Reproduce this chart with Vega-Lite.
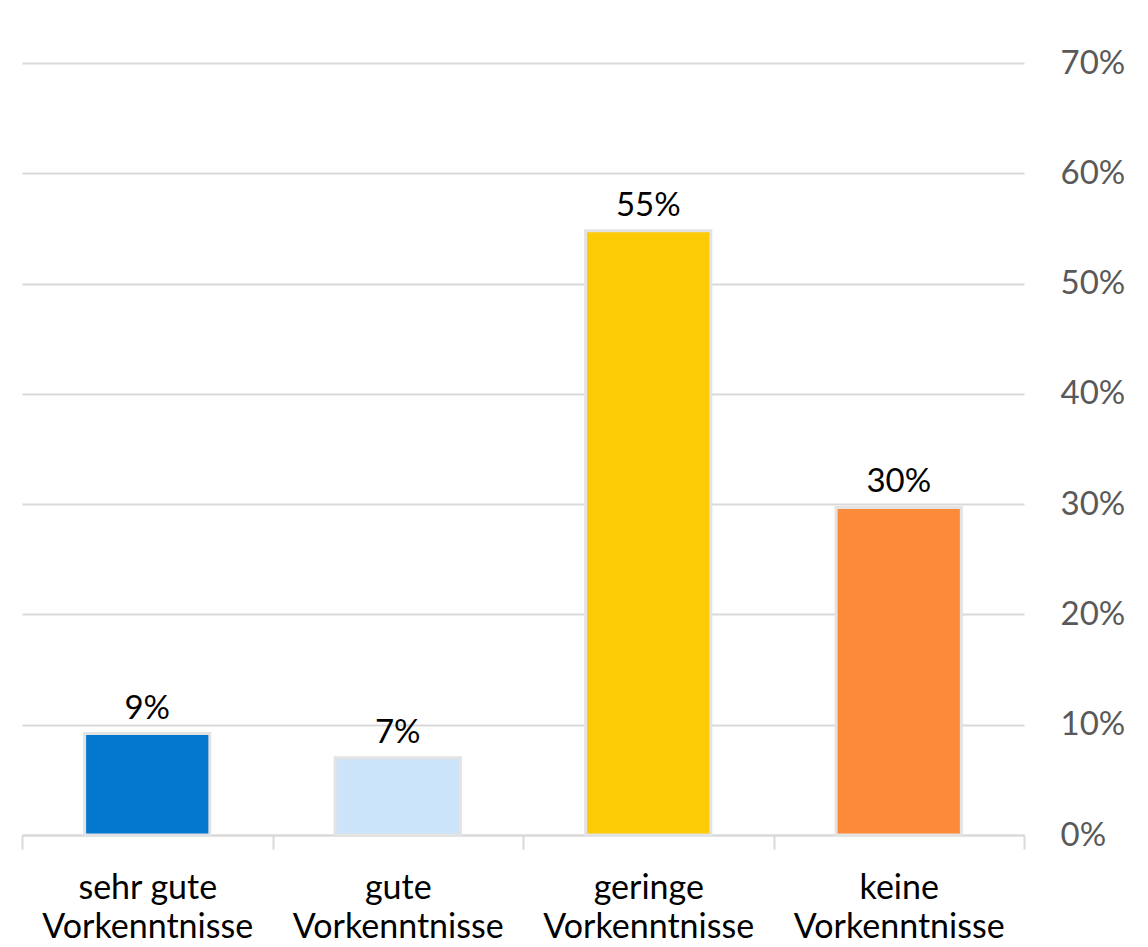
{
  "$schema": "https://vega.github.io/schema/vega-lite/v6.json",
  "width": 1002,
  "height": 772,
  "autosize": {"type": "none"},
  "padding": {"left": 22, "top": 63, "right": 124, "bottom": 112},
  "background": "white",
  "config": {"view": {"stroke": null}, "font": "Lato"},
  "data": {
    "values": [
      {"kategorie": "sehr gute\nVorkenntnisse", "anteil": 0.092},
      {"kategorie": "gute\nVorkenntnisse", "anteil": 0.07},
      {"kategorie": "geringe\nVorkenntnisse", "anteil": 0.548},
      {"kategorie": "keine\nVorkenntnisse", "anteil": 0.297}
    ]
  },
  "encoding": {
    "x": {
      "field": "kategorie",
      "type": "nominal",
      "sort": null,
      "scale": {"paddingInner": 0, "paddingOuter": 0},
      "axis": {
        "title": null,
        "labelAngle": 0,
        "labelExpr": "split(datum.label, '\\n')",
        "labelFontSize": 34,
        "labelColor": "#000000",
        "labelLineHeight": 39,
        "labelPadding": 22,
        "labelBaseline": "top",
        "labelLimit": 0,
        "labelOverlap": false,
        "domainColor": "#d9d9d9",
        "domainWidth": 2,
        "tickColor": "#d9d9d9",
        "tickWidth": 2,
        "tickSize": 14,
        "tickBand": "extent",
        "grid": false
      }
    },
    "y": {
      "field": "anteil",
      "type": "quantitative",
      "scale": {"domain": [0, 0.7], "nice": false},
      "axis": {
        "orient": "right",
        "title": null,
        "format": ".0%",
        "values": [0, 0.1, 0.2, 0.3, 0.4, 0.5, 0.6, 0.7],
        "labelFontSize": 33,
        "labelColor": "#595959",
        "labelPadding": 36,
        "labelAlign": "left",
        "domain": false,
        "ticks": false,
        "gridColor": "#d9d9d9",
        "gridWidth": 2
      }
    }
  },
  "layer": [
    {
      "mark": {"type": "bar", "width": {"band": 0.5}, "stroke": "#e3e3e3", "strokeWidth": 3},
      "encoding": {
        "color": {
          "field": "kategorie",
          "type": "nominal",
          "sort": null,
          "scale": {"range": ["#0477cf", "#cce4f9", "#fdcb05", "#fd8a3a"]},
          "legend": null
        }
      }
    },
    {
      "mark": {"type": "text", "baseline": "bottom", "dy": -8, "fontSize": 33, "color": "#000000"},
      "encoding": {
        "text": {"field": "anteil", "type": "quantitative", "format": ".0%"}
      }
    }
  ]
}
